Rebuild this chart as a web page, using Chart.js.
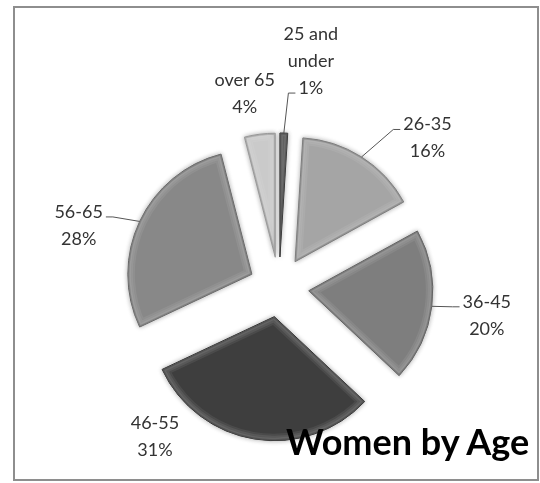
<!DOCTYPE html>
<html>
<head>
<meta charset="utf-8">
<script src="https://cdn.jsdelivr.net/npm/chart.js@4/dist/chart.umd.min.js"></script>
<style>
    body { margin: 0; background: #fff; }
    #wrap { position: relative; width: 540px; height: 483px; overflow: hidden; }
    #frame { position: absolute; left: 13px; top: 6px; width: 522px; height: 471px; border: 2px solid #8e8e8e; }
    #chart { position: absolute; left: 0; top: 0; }
    #title { position: absolute; left: 286px; top: 419px; font: bold 36px Lato, sans-serif; color: #000; white-space: nowrap; line-height: 44px; }
</style>
</head>
<body>
<div id="wrap">
    <div id="frame"></div>
    <canvas id="chart" width="540" height="483"></canvas>
    <div id="title">Women by Age</div>
</div>
<script>
// Age groups, clockwise from the top
const ageGroups = ['25 and under', '26-35', '36-45', '46-55', '56-65', 'over 65'];
const labelLines = [['25 and', 'under'], ['26-35'], ['36-45'], ['46-55'], ['56-65'], ['over 65']];
const shares = [1, 16, 20, 31, 28, 4];

const sliceColors = ['#4a4a4a', '#a5a5a5', '#7e7e7e', '#3e3e3e', '#888888', '#cacaca'];
const sliceBorders = ['#2e2e2e', '#7a7a7a', '#5a5a5a', '#2a2a2a', '#636363', '#9a9a9a'];

// label block offset from the slice's outer mid point, and leader line setup
const labelOffsets = [[27, -72], [66, -19], [55, 9], [-100, -2], [-61, 4], [-15, -41]];
const leaderLine = [2, 0, 0, null, 0, null];

const EXPLODE = 30;
const LINE_H = 27;

// push each slice out along its bisector without shrinking it
const explodePlugin = {
    id: 'explode',
    afterDatasetUpdate(chart, args) {
        args.meta.data.forEach(arc => {
            const mid = (arc.startAngle + arc.endAngle) / 2;
            arc.x += Math.cos(mid) * EXPLODE;
            arc.y += Math.sin(mid) * EXPLODE;
        });
    },
    beforeDatasetDraw(chart) {
        chart.ctx.save();
        chart.ctx.shadowColor = 'rgba(0,0,0,0.3)';
        chart.ctx.shadowBlur = 5;
    },
    afterDatasetDraw(chart, args) {
        const ctx = chart.ctx;
        ctx.restore();
        // soft bevel on each slice
        args.meta.data.forEach(arc => {
            ctx.save();
            ctx.beginPath();
            ctx.moveTo(arc.x, arc.y);
            ctx.arc(arc.x, arc.y, arc.outerRadius, arc.startAngle, arc.endAngle);
            ctx.closePath();
            ctx.clip();
            ctx.lineJoin = 'round';
            [[14, 'rgba(255,255,255,0.07)'], [10, 'rgba(255,255,255,0.08)'], [6, 'rgba(255,255,255,0.08)'],
             [3, 'rgba(0,0,0,0.15)']].forEach(([w, c]) => {
                ctx.lineWidth = w;
                ctx.strokeStyle = c;
                ctx.stroke();
            });
            ctx.restore();
        });
    }
};

const labelPlugin = {
    id: 'sliceLabels',
    afterDatasetsDraw(chart) {
        const ctx = chart.ctx;
        const arcs = chart.getDatasetMeta(0).data;
        const total = shares.reduce((a, b) => a + b, 0);
        ctx.save();
        ctx.font = '18px Lato, sans-serif';
        ctx.textAlign = 'center';
        ctx.textBaseline = 'middle';
        arcs.forEach((arc, i) => {
            const mid = (arc.startAngle + arc.endAngle) / 2;
            const ax = arc.x + Math.cos(mid) * arc.outerRadius;
            const ay = arc.y + Math.sin(mid) * arc.outerRadius;
            const lines = labelLines[i].concat([Math.round(shares[i] / total * 100) + '%']);
            const cx = ax + labelOffsets[i][0];
            const cy = ay + labelOffsets[i][1];
            const top = cy - (lines.length - 1) * LINE_H / 2;

            const li = leaderLine[i];
            if (li !== null) {
                const w = ctx.measureText(lines[li]).width;
                const ly = top + li * LINE_H + 5;
                let ex, bx;
                if (ax < cx - w / 2) { ex = cx - w / 2 - 3; bx = ex - 7; }
                else { ex = cx + w / 2 + 3; bx = ex + 7; }
                ctx.strokeStyle = '#555';
                ctx.lineWidth = 1;
                ctx.beginPath();
                ctx.moveTo(ax, ay);
                ctx.lineTo(bx, ly);
                ctx.lineTo(ex, ly);
                ctx.stroke();
            }

            ctx.fillStyle = '#333';
            lines.forEach((t, k) => ctx.fillText(t, cx, top + k * LINE_H));
        });
        ctx.restore();
    }
};

new Chart(document.getElementById('chart'), {
    type: 'pie',
    data: {
        labels: ageGroups,
        datasets: [{
            data: shares,
            backgroundColor: sliceColors,
            borderColor: sliceBorders,
            borderWidth: 1
        }]
    },
    options: {
        responsive: false,
        animation: false,
        radius: 124,
        layout: { padding: { top: 140, bottom: 49, left: 140, right: 122 } },
        plugins: {
            legend: { display: false },
            tooltip: { enabled: false }
        }
    },
    plugins: [explodePlugin, labelPlugin]
});
</script>
</body>
</html>
